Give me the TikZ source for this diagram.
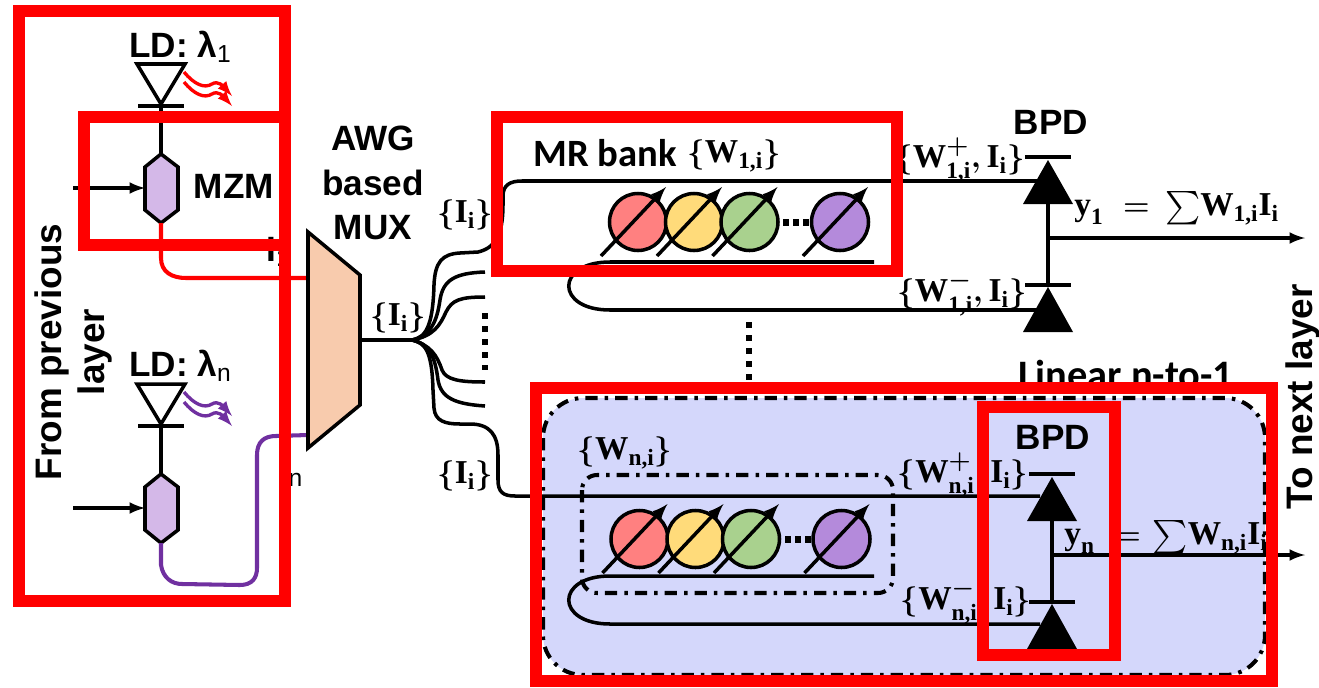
\documentclass[tikz,border=0pt]{standalone}
\usepackage{amsmath,amssymb}
\usepackage{xcolor}
\usepackage{fontspec}
\newfontfamily\arialfont{Liberation Sans}
\newfontfamily\calfont{Carlito}
\newfontfamily\serfont{Liberation Serif}
\newcommand{\bt}[1]{\text{\serfont\bfseries #1}}
\newcommand{\Ii}{\bt{I}_{\bt{i}}}

\definecolor{ringred}{HTML}{FF8080}
\definecolor{ringyellow}{HTML}{FFDB7A}
\definecolor{ringgreen}{HTML}{A9D18E}
\definecolor{ringpurple}{HTML}{B48ADB}
\definecolor{mzmfill}{HTML}{D4B8E8}
\definecolor{muxfill}{HTML}{F8CBAD}
\definecolor{wnfill}{HTML}{D4D7FB}
\definecolor{ldpurple}{HTML}{7030A0}

\tikzset{
  wg/.style={line width=2pt},
  fibre/.style={line width=2.3pt},
  sans/.style={font=\arialfont\bfseries\fontsize{20}{24}\selectfont},
  sanslong/.style={font=\arialfont\bfseries\fontsize{21}{25}\selectfont, rotate=90},
  cal/.style={font=\calfont\bfseries\fontsize{22}{26}\selectfont, inner sep=0pt},
  mathlbl/.style={font=\fontsize{19}{23}\selectfont\boldmath, inner sep=0pt},
  mark box/.style={draw=red, line width=6.83pt, line join=miter},
  dotrow/.style={line width=3.4pt, dash pattern=on 3.4pt off 4pt},
  dashdot/.style={line width=2.3pt, dash pattern=on 7pt off 4pt on 2pt off 4pt},
}

\begin{document}
\begin{tikzpicture}[>=latex, x=0.02cm, y=-0.02cm]

  \useasboundingbox (0,0) rectangle (1319,687);

  % Parameters
  \def\R{28.5}  % ring radius

  % ---- Weight bank n background ----
  \draw[fill=wnfill, dashdot, rounded corners=0.8cm] (543,398) rectangle (1265,675);
  \draw[dashdot, rounded corners=0.3cm] (582,475) rectangle (893,593);

  % ---- Laser, modulator and wavy emission for both channels ----
  \foreach \ly/\col in {0/red, 320/ldpurple}{
    \draw[wg] (137,64+\ly) -- (185,64+\ly) -- (161,104+\ly) -- cycle;
    \draw[wg] (138,106+\ly) -- (184,106+\ly);
    \draw[wg] (161,106+\ly) -- (161,154+\ly);
    \draw[wg, fill=mzmfill] (161,154+\ly) -- (178,167+\ly) -- (178,210+\ly)
      -- (161,223+\ly) -- (145,210+\ly) -- (145,167+\ly) -- cycle;
    \draw[wg, ->] (73,188+\ly) -- (145,188+\ly);
    % two wavy rays
    \foreach \off in {0,10}{
      \draw[->, \col, line width=1.9pt] (184,72+\ly+\off)
        .. controls (194,84+\ly+\off) and (204,89+\ly+\off) .. (212,84+\ly+\off)
        .. controls (218,80+\ly+\off) and (224,87+\ly+\off) .. (232,96+\ly+\off);
    }
  }

  % ---- Channel fibres into the MUX ----
  \draw[red, fibre] (161,223) -- (161,258) .. controls (161,272) and (172,278) .. (186,278) -- (308,278);
  \draw[ldpurple, fibre] (161,543) -- (161,565) .. controls (163,578) and (172,584) .. (182,584)
    -- (240,585) .. controls (252,585) and (257,578) .. (257,568)
    -- (257,455) .. controls (257,442) and (264,436) .. (276,436) -- (308,435);

  % ---- MUX ----
  \draw[wg, fill=muxfill] (308,232) -- (360,275) -- (360,405) -- (308,448) -- cycle;
  \coordinate (hub) at (412,340);
  \draw[wg] (360,340) -- (hub);

  % ---- Fan out ----
  \draw[wg] (hub) .. controls (428,338) and (433,320) .. (434,285)
    .. controls (435,262) and (442,254) .. (460,253) -- (478,252)
    .. controls (495,248) and (503,235) .. (503,205) -- (503,196)
    .. controls (503,185) and (510,181) .. (522,181) -- (1040,181);
  \draw[wg] (hub) .. controls (432,335) and (437,320) .. (440,300)
    .. controls (443,280) and (455,273) .. (485,272);
  \draw[wg] (hub) .. controls (434,336) and (440,325) .. (446,312)
    .. controls (452,300) and (460,297) .. (485,297);
  \draw[wg] (hub) .. controls (430,345) and (437,355) .. (442,370)
    .. controls (446,380) and (460,382) .. (485,382);
  \draw[wg] (hub) .. controls (428,343) and (435,355) .. (438,380)
    .. controls (441,398) and (455,404) .. (485,406);
  \draw[wg] (hub) .. controls (425,343) and (432,350) .. (433,390) -- (434,408)
    .. controls (435,421) and (445,424) .. (460,424) -- (470,424)
    .. controls (490,424) and (498,435) .. (498,455) -- (498,480)
    .. controls (498,492) and (503,496) .. (515,496) -- (1040,496);

  \draw[dotrow] (485,313) -- (485,370);
  \draw[dotrow] (749,322) -- (749,385);

  % ---- Rings of both banks ----
  \foreach \dx/\yc/\by in {0/222/262, 1.5/539/576}{
    \foreach \cx/\col in {638/ringred, 694/ringyellow, 749.5/ringgreen, 840/ringpurple}{
      \draw[wg, fill=\col] (\cx+\dx,\yc) circle (\R);
      \draw[wg, ->] (\cx+\dx-37,\yc+34) -- (\cx+\dx+28,\yc-35);
    }
    \foreach \sx in {786,796,806}{
      \fill (\sx+\dx-3,\yc-3.5) rectangle (\sx+\dx+3,\yc+3.5);
    }
    % add-drop waveguide, loop back to the lower photodiode
    \draw[wg] (874,\by) -- (610,\by)
      .. controls (555,\by) and (555,\by+48) .. (610,\by+48) -- (1040,\by+48);
  }

  % ---- Balanced photodiodes ----
  \foreach \bx/\by/\ey in {1048/157/238, 1052/474/555}{
    \draw[wg] (\bx-23,\by) -- (\bx+23,\by);
    \fill (\bx,\by+3) -- (\bx+25,\by+47) -- (\bx-25,\by+47) -- cycle;
    \draw[wg] (\bx,\by+47) -- (\bx,\by+129);
    \draw[wg] (\bx-23,\by+128) -- (\bx+23,\by+128);
    \fill (\bx,\by+130) -- (\bx+25,\by+175) -- (\bx-25,\by+175) -- cycle;
    \draw[wg, ->] (\bx,\ey) -- (1305,\ey);
  }

  % ---- Labels ----
  \node[sans, anchor=west, inner sep=0pt] (ldone) at (129,47) {LD: λ\textsubscript{\mdseries 1}};
  \node[sans, anchor=west, inner sep=0pt] (ldn) at (129,366) {LD: λ\textsubscript{\mdseries n}};
  \node[sans] (mzmlabel) at (234,186) {MZM};
  \node[sans] (awglabel) at (373,138) {AWG};
  \node[sans] (basedlabel) at (373,183) {based};
  \node[sans] (muxlabel) at (373,228) {MUX};
  \node[sanslong] (fromlabel) at (52,352) {From previous};
  \node[sanslong] (layerlabel) at (95,352) {layer};
  \node[sanslong] (nextlabel) at (1303,397) {To next layer};
  \node[sans] (ioneleft) at (279,252) {I\textsubscript{1}};
  \node[sans] (inleft) at (291,472) {I\textsubscript{\mdseries n}};

  \node[mathlbl] (imux) at (398,318) {$\{\Ii\}$};
  \node[mathlbl] (itop) at (465,215) {$\{\Ii\}$};
  \node[mathlbl] (ibot) at (465,476) {$\{\Ii\}$};

  \node[cal, anchor=west] (mrlabel) at (533,153) {MR bank};
  \node[mathlbl] (wone) at (734,156) {$\{\bt{W}_{\bt{1,i}}\}$};
  \node[mathlbl] (wn) at (625,453) {$\{\bt{W}_{\bt{n,i}}\}$};
  \node[sans] (bpdtop) at (1051,122) {BPD};
  \node[sans] (bpdbot) at (1053,437) {BPD};
  \node[cal, anchor=north, font=\calfont\bfseries\fontsize{23}{27}\selectfont] (linear) at (1126,360) {Linear n-to-1};

  \node[mathlbl] (wonep) at (960,160) {$\{\bt{W}^{+}_{\bt{1,i}}{,}\,\Ii\}$};
  \node[mathlbl] (wonem) at (962,294) {$\{\bt{W}^{-}_{\bt{1,i}}{,}\,\Ii\}$};
  \node[mathlbl] (wnp) at (963,475) {$\{\bt{W}^{+}_{\bt{n,i}}{,}\,\Ii\}$};
  \node[mathlbl] (wnm) at (966,602) {$\{\bt{W}^{-}_{\bt{n,i}}{,}\,\Ii\}$};
  \node[mathlbl, anchor=west] (yone) at (1074,208) {$\bt{y}_{\bt{1}}\;\;{=}\;\sum\!\bt{W}_{\bt{1,i}}\Ii$};
  \node[mathlbl, anchor=west] (yn) at (1064,537) {$\bt{y}_{\bt{n}}\;\;{=}\,\sum\!\bt{W}_{\bt{n,i}}\Ii$};

  % ---- Highlight boxes on top ----
  \draw[mark box] (19,11) rectangle (285,601);
  \draw[mark box] (84,117) rectangle (285,245);
  \draw[mark box] (497,117) rectangle (897,271);
  \draw[mark box] (536,388) rectangle (1272,681);
  \draw[mark box] (983,407) rectangle (1115,655);

\end{tikzpicture}
\end{document}
